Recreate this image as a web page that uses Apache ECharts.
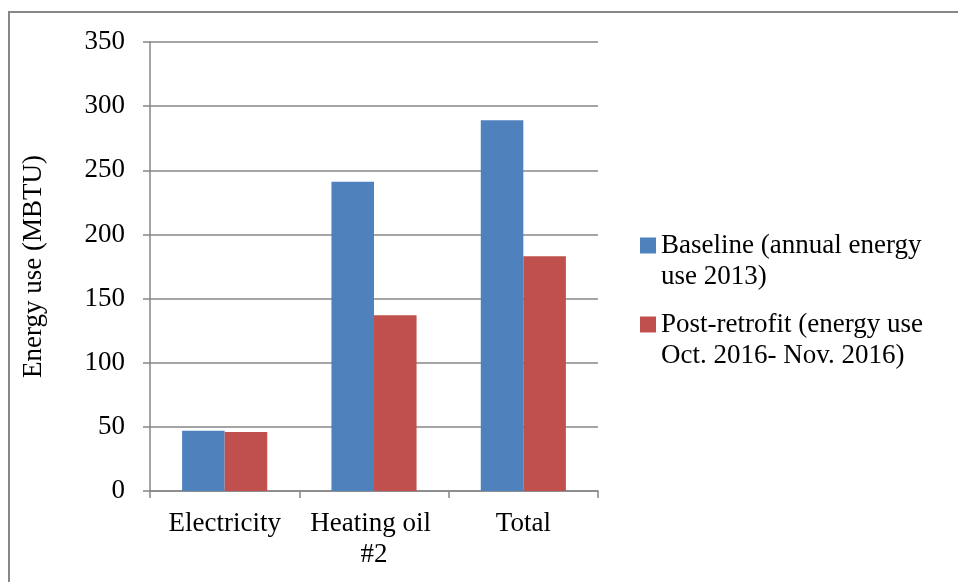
<!DOCTYPE html>
<html>
<head>
<meta charset="utf-8">
<script src="https://cdn.jsdelivr.net/npm/echarts@6/dist/echarts.min.js"></script>
<style>
  html, body { margin: 0; padding: 0; background: #fff; }
  #chart { width: 958px; height: 582px; }
</style>
</head>
<body>
<div id="chart"></div>
<script>
// data
const categories = ['Electricity', 'Heating oil #2', 'Total'];
const baseline = [47, 241, 289];
const postRetrofit = [46, 137, 183];
const seriesNames = ['Baseline (annual energy\nuse 2013)', 'Post-retrofit (energy use\nOct. 2016- Nov. 2016)'];
const yTicks = { min: 0, max: 350, interval: 50 };

const font = 'Liberation Serif';
const grey = '#878787';

let myChart = echarts.init(document.getElementById('chart'));

// empty first line so the square lines up with the first text line
let legendText = {
  fontFamily: font,
  fontSize: 27,
  lineHeight: 31,
  color: '#000'
};
let legendFormatter = function (name) {
  return ' \n' + name;
};

let option = {
  animation: false,
  backgroundColor: '#fff',
  color: ['#4F81BD', '#C0504D'],
  textStyle: { fontFamily: font },
  graphic: [
    {
      type: 'rect',
      shape: { x: 9, y: 12, width: 1000, height: 1000 },
      style: { fill: 'none', stroke: grey, lineWidth: 2 },
      silent: true
    }
  ],
  legend: [
    {
      data: [seriesNames[0]],
      left: 640, top: 199,
      padding: 0,
      itemWidth: 16, itemHeight: 16, itemGap: 5,
      icon: 'rect',
      formatter: legendFormatter,
      textStyle: legendText
    },
    {
      data: [seriesNames[1]],
      left: 640, top: 278,
      padding: 0,
      itemWidth: 16, itemHeight: 16, itemGap: 5,
      icon: 'rect',
      formatter: legendFormatter,
      textStyle: legendText
    }
  ],
  grid: { left: 150, right: 360, top: 42, bottom: 91, containLabel: false },
  xAxis: {
    type: 'category',
    data: categories,
    axisLine: { lineStyle: { color: grey, width: 1.5 } },
    axisTick: { show: true, inside: false, length: 7, alignWithLabel: false, lineStyle: { color: grey, width: 1.5 } },
    axisLabel: {
      color: '#000', fontFamily: font, fontSize: 27, lineHeight: 31,
      margin: 17, width: 140, overflow: 'break', interval: 0
    }
  },
  yAxis: {
    type: 'value',
    min: yTicks.min, max: yTicks.max, interval: yTicks.interval,
    name: 'Energy use (MBTU)',
    nameLocation: 'middle',
    nameGap: 103,
    nameRotate: 90,
    nameTextStyle: { color: '#000', fontFamily: font, fontSize: 27 },
    axisLine: { show: true, lineStyle: { color: grey, width: 1.5 } },
    axisTick: { show: true, inside: false, length: 7, lineStyle: { color: grey, width: 1.5 } },
    axisLabel: { color: '#000', fontFamily: font, fontSize: 27, margin: 25 },
    splitLine: { lineStyle: { color: grey, width: 1.5 } }
  },
  series: [
    {
      name: seriesNames[0],
      type: 'bar',
      data: baseline,
      barGap: '0%',
      barCategoryGap: '43%',
      itemStyle: { color: '#4F81BD' }
    },
    {
      name: seriesNames[1],
      type: 'bar',
      data: postRetrofit,
      barGap: '0%',
      barCategoryGap: '43%',
      itemStyle: { color: '#C0504D' }
    }
  ]
};

myChart.setOption(option);
</script>
</body>
</html>
